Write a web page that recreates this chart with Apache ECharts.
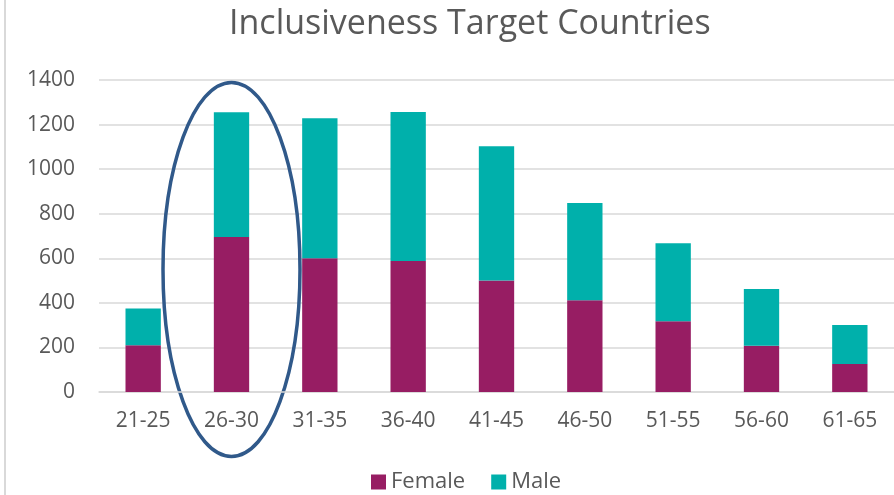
<!DOCTYPE html>
<html>
<head>
<meta charset="utf-8">
<script src="https://cdn.jsdelivr.net/npm/echarts@6/dist/echarts.min.js"></script>
<style>
  html, body { margin: 0; padding: 0; background: #fff; }
  #app { width: 894px; height: 495px; }
</style>
</head>
<body>
<div id="app"></div>
<script>
const ageGroups = ['21-25', '26-30', '31-35', '36-40', '41-45', '46-50', '51-55', '56-60', '61-65']
const female = [210, 695, 600, 588, 500, 412, 317, 208, 126]
const male = [165, 560, 628, 668, 603, 436, 350, 254, 175]

const txt = '#595959'
const font = 'Open Sans'

const myChart = echarts.init(document.getElementById('app'))

const option = {
    animation: false,
    backgroundColor: '#fff',
    title: {
        text: 'Inclusiveness Target Countries',
        left: 224,
        top: 2,
        textStyle: { color: txt, fontFamily: font, fontSize: 34, fontWeight: 'normal' }
    },
    legend: {
        top: 466,
        left: 366,
        itemWidth: 15,
        itemHeight: 15,
        itemGap: 26,
        icon: 'rect',
        textStyle: { color: txt, fontFamily: font, fontSize: 22 },
        data: ['Female', 'Male']
    },
    grid: { left: 99, right: 0, top: 80, bottom: 103, containLabel: false },
    xAxis: {
        type: 'category',
        data: ageGroups,
        axisLine: { lineStyle: { color: '#d9d9d9', width: 1.5 } },
        axisTick: { show: false },
        axisLabel: { color: txt, fontFamily: font, fontSize: 21, margin: 19 }
    },
    yAxis: {
        type: 'value',
        min: 0,
        max: 1400,
        interval: 200,
        axisLine: { show: false },
        axisTick: { show: false },
        splitLine: { lineStyle: { color: '#d9d9d9', width: 1.5 } },
        axisLabel: { color: txt, fontFamily: font, fontSize: 21, margin: 24, formatter: v => String(v) }
    },
    series: [
        {
            name: 'Female', type: 'bar', stack: 'total', data: female,
            barWidth: '40%',
            itemStyle: { color: '#971D63' }
        },
        {
            name: 'Male', type: 'bar', stack: 'total', data: male,
            barWidth: '40%',
            itemStyle: { color: '#00B0AB' }
        }
    ]
}

myChart.setOption(option)

// highlight ring around 26-30 and the left border line
const c = myChart.convertToPixel({ gridIndex: 0 }, ['26-30', 550])
myChart.setOption({
    graphic: [
        {
            type: 'line',
            shape: { x1: 5, y1: 0, x2: 5, y2: 495 },
            style: { stroke: '#d9d9d9', lineWidth: 2 }
        },
        {
            type: 'ellipse',
            shape: { cx: c[0], cy: c[1], rx: 68.5, ry: 187 },
            style: { fill: 'none', stroke: '#30598A', lineWidth: 3.5 }
        }
    ]
})
</script>
</body>
</html>
